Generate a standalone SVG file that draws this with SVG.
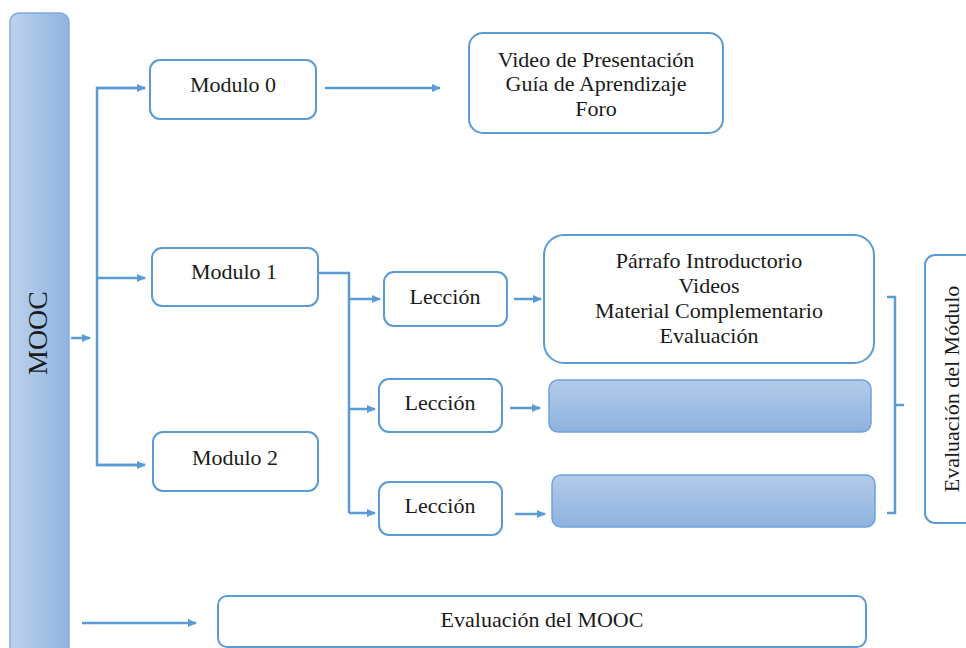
<svg xmlns="http://www.w3.org/2000/svg" width="966" height="648" viewBox="0 0 966 648">
<defs>
<linearGradient id="gh" x1="0" y1="0" x2="1" y2="0"><stop offset="0" stop-color="#bdd2ec"/><stop offset="1" stop-color="#8fb4e0"/></linearGradient>
<linearGradient id="gv" x1="0" y1="0" x2="0" y2="1"><stop offset="0" stop-color="#b3cbea"/><stop offset="1" stop-color="#8db2df"/></linearGradient>
<marker id="ah" markerWidth="10" markerHeight="10" refX="8" refY="5" orient="auto" markerUnits="userSpaceOnUse"><path d="M0,1 L9,5 L0,9 Z" fill="#5b9bd5"/></marker>
<style>
.box{fill:#fff;stroke:#5b9bd5;stroke-width:2}
.fill{fill:url(#gv);stroke:#6fa3da;stroke-width:1.5}
.ln{fill:none;stroke:#5b9bd5;stroke-width:2.5}
.ar{fill:none;stroke:#5b9bd5;stroke-width:2.5;marker-end:url(#ah)}
.t{font-family:'Liberation Serif','Times New Roman',serif;font-size:22px;fill:#1a1a1a;text-anchor:middle}
.big{font-size:28px}
</style>
</defs>
<g id="mooc"><rect x="10" y="13" width="59" height="660" rx="9" fill="url(#gh)" stroke="#82abdc" stroke-width="1.5"/><text class="t big" transform="translate(47,333) rotate(-90)">MOOC</text></g>
<g id="connectors">
<line class="ar" x1="71" y1="338" x2="90" y2="338"/>
<polyline class="ln" points="145,88 97,88 97,465 145,465"/>
<line class="ar" x1="97" y1="88" x2="145" y2="88"/>
<line class="ar" x1="97" y1="278" x2="145" y2="278"/>
<line class="ar" x1="97" y1="465" x2="145" y2="465"/>
<line class="ar" x1="325" y1="88" x2="440" y2="88"/>
<polyline class="ln" points="318,273 349,273 349,513"/>
<line class="ar" x1="349" y1="299" x2="380" y2="299"/>
<line class="ar" x1="349" y1="409" x2="375" y2="409"/>
<line class="ar" x1="349" y1="513" x2="375" y2="513"/>
<line class="ar" x1="514" y1="299" x2="541" y2="299"/>
<line class="ar" x1="510" y1="408" x2="540" y2="408"/>
<line class="ar" x1="515" y1="514" x2="545" y2="514"/>
<polyline class="ln" points="887,297 895,297 895,513 887,513"/>
<line class="ln" x1="895" y1="405" x2="904" y2="405"/>
<line class="ar" x1="82" y1="623" x2="196" y2="623"/>
</g>
<g id="modulo0"><rect class="box" x="150" y="60" width="166" height="59" rx="10"/><text class="t" x="233" y="92">Modulo 0</text></g>
<g id="recursos0"><rect class="box" x="469" y="33" width="254" height="100" rx="14"/><text class="t" x="596" y="67">Video de Presentación</text><text class="t" x="596" y="91">Guía de Aprendizaje</text><text class="t" x="596" y="116">Foro</text></g>
<g id="modulo1"><rect class="box" x="152" y="248" width="166" height="58" rx="10"/><text class="t" x="234" y="279">Modulo 1</text></g>
<g id="modulo2"><rect class="box" x="153" y="432" width="165" height="59" rx="10"/><text class="t" x="235" y="465">Modulo 2</text></g>
<g id="leccion1"><rect class="box" x="384" y="272" width="123" height="54" rx="10"/><text class="t" x="445" y="304">Lección</text></g>
<g id="leccion2"><rect class="box" x="379" y="379" width="123" height="53" rx="10"/><text class="t" x="440" y="410">Lección</text></g>
<g id="leccion3"><rect class="box" x="379" y="482" width="123" height="53" rx="10"/><text class="t" x="440" y="513">Lección</text></g>
<g id="contenido1"><rect class="box" x="544" y="235" width="330" height="128" rx="20"/><text class="t" x="709" y="268">Párrafo Introductorio</text><text class="t" x="709" y="293">Videos</text><text class="t" x="709" y="318">Material Complementario</text><text class="t" x="709" y="343">Evaluación</text></g>
<g id="contenido2"><rect class="fill" x="549" y="380" width="322" height="52" rx="9"/></g>
<g id="contenido3"><rect class="fill" x="552" y="475" width="323" height="52" rx="9"/></g>
<g id="evalmodulo"><rect class="box" x="925" y="255" width="60" height="268" rx="10"/><text class="t" transform="translate(959,389) rotate(-90)">Evaluación del Módulo</text></g>
<g id="evalmooc"><rect class="box" x="218" y="596" width="648" height="51" rx="9"/><text class="t" x="542" y="627">Evaluación del MOOC</text></g>
</svg>
